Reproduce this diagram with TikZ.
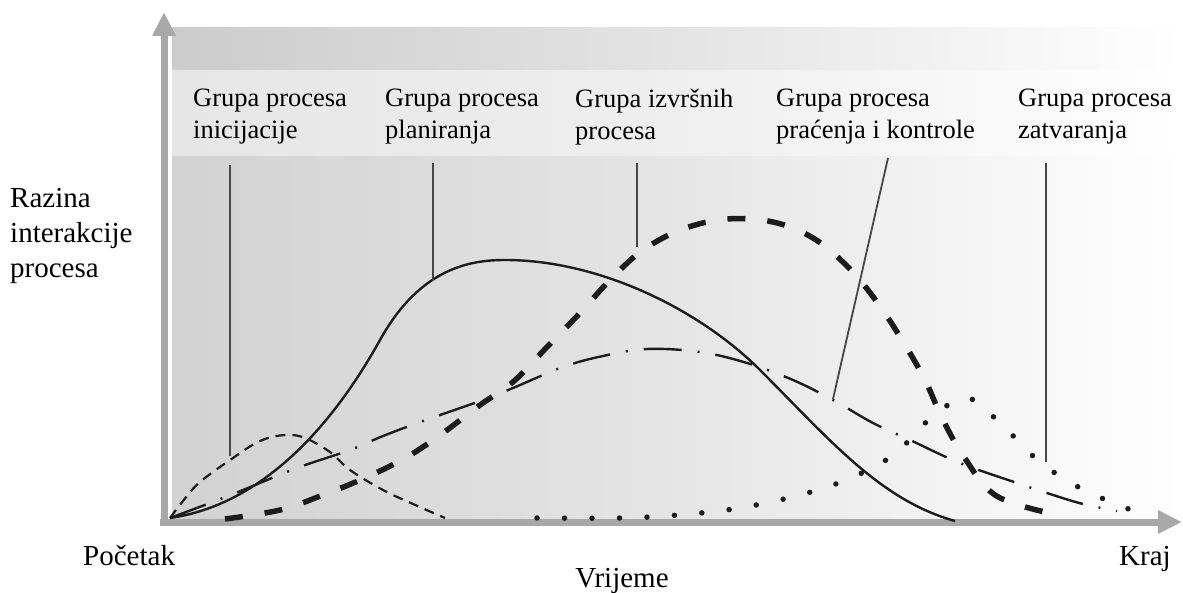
\documentclass[tikz,border=0pt]{standalone}
\usepackage{fontspec}
\setmainfont{Liberation Serif}
\usetikzlibrary{arrows.meta}
\definecolor{axisgray}{RGB}{168,168,168}
\definecolor{pointergray}{RGB}{70,70,70}
\definecolor{ink}{RGB}{28,28,28}
\definecolor{bandtop}{RGB}{204,204,204}
\definecolor{bandtopmid}{RGB}{226,226,226}
\definecolor{bandtext}{RGB}{230,230,230}
\definecolor{bandtextmid}{RGB}{238,238,238}
\definecolor{plotleft}{RGB}{210,210,210}
\definecolor{plotmid}{RGB}{228,228,228}
\begin{document}
\begin{tikzpicture}[x=1pt,y=-1pt,
  grouplabel/.style={anchor=north west, align=left, inner sep=0pt,
    font=\fontsize{26.5}{31.5}\selectfont},
  sidelabel/.style={anchor=north west, align=left, inner sep=0pt,
    font=\fontsize{29}{35}\selectfont},
  endlabel/.style={anchor=base west, inner sep=0pt,
    font=\fontsize{29}{33}\selectfont},
  axisline/.style={draw=axisgray, line width=7pt,
    -{Triangle[length=24pt,width=22pt]}},
  pointerline/.style={draw=pointergray, line width=1.8pt},
  initcurve/.style={draw=ink, line width=2.2pt, dash pattern=on 10pt off 7pt},
  plancurve/.style={draw=ink, line width=2.4pt},
  execcurve/.style={draw=ink, line width=5.5pt, dash pattern=on 18pt off 22pt},
  moncurve/.style={draw=ink, line width=2.4pt,
    dash pattern=on 38pt off 16pt on 2pt off 16pt},
  closecurve/.style={draw=ink, line width=5.5pt, line cap=round,
    dash pattern=on 0pt off 27.5pt},
]
\useasboundingbox (0,0) rectangle (1183,593);
\fill[white] (0,0) rectangle (1183,593);

% shaded backdrop: header strip, label strip, plot area
\shade[left color=bandtop, right color=bandtopmid] (172,28) rectangle (640,71);
\shade[left color=bandtopmid, right color=white] (640,28) rectangle (1183,71);
\shade[left color=bandtext, right color=bandtextmid] (172,71) rectangle (640,157);
\shade[left color=bandtextmid, right color=white] (640,71) rectangle (1183,157);
\shade[left color=plotleft, right color=plotmid] (172,157) rectangle (640,522);
\shade[left color=plotmid, right color=white] (640,157) rectangle (1183,522);

% axes
\coordinate (origin) at (164,525);
\coordinate (ytop) at (164,12);
\coordinate (xorigin) at (160,522);
\coordinate (xend) at (1182,522);
\draw[axisline] (origin) -- (ytop);
\draw[axisline] (xorigin) -- (xend);

% process group curves
\draw[initcurve] plot[smooth, tension=0.6] coordinates {
  (170,518) (183,501) (200,482) (233,458) (260,441) (285,435) (305,438)
  (330,452) (350,470) (383,490) (413,504) (445,518)};
\draw[plancurve] (170,518) .. controls (260,505) and (330,430) .. (380,340)
  .. controls (420,268) and (470,260) .. (505,260)
  .. controls (600,260) and (700,310) .. (760,370)
  .. controls (830,440) and (880,500) .. (955,521);
\draw[execcurve] plot[smooth, tension=0.6] coordinates {
  (225,519) (280,510) (323,495) (367,477) (407,457) (443,433) (480,405)
  (513,382) (547,347) (580,313) (610,280) (643,250) (683,229) (727,219)
  (773,222) (813,238) (848,267) (877,302) (902,340) (925,380) (942,418)
  (964,457) (995,495) (1045,512)};
\draw[moncurve] plot[smooth, tension=0.6] coordinates {
  (170,518) (210,503) (243,490) (297,468) (350,450) (383,436) (423,421)
  (483,400) (513,388) (563,367) (603,356) (647,349) (700,352) (747,363)
  (793,380) (833,400) (873,423) (910,440) (960,463) (1017,483) (1050,494)
  (1083,504) (1117,511)};
\draw[closecurve] plot[smooth, tension=0.6] coordinates {
  (537,518) (622,518) (678,515) (733,509) (788,498) (841,482) (892,456)
  (932,417) (967,398) (999,422) (1040,462) (1086,491) (1147,516)};

% group labels
\node[grouplabel] (lini) at (193,89) {Grupa procesa\\inicijacije};
\node[grouplabel] (lplan) at (385,89) {Grupa procesa\\planiranja};
\node[grouplabel] (lexec) at (575,89) {Grupa izvršnih\\procesa};
\node[grouplabel] (lmon) at (776,89) {Grupa procesa\\praćenja i kontrole};
\node[grouplabel] (lclose) at (1018,89) {Grupa procesa\\zatvaranja};

% pointers from labels to curves
\coordinate (pini) at (230,165);   \coordinate (cini) at (230,456);
\coordinate (pplan) at (433,163);  \coordinate (cplan) at (433,281);
\coordinate (pexec) at (637,163);  \coordinate (cexec) at (637,247);
\coordinate (pmon) at (888,158);   \coordinate (cmon) at (833,399);
\coordinate (pclose) at (1046,163);\coordinate (cclose) at (1046,462);
\draw[pointerline] (pini) -- (cini);
\draw[pointerline] (pplan) -- (cplan);
\draw[pointerline] (pexec) -- (cexec);
\draw[pointerline] (pmon) -- (cmon);
\draw[pointerline] (pclose) -- (cclose);

% axis labels
\node[sidelabel] (ylab) at (10,188) {Razina\\interakcije\\procesa};
\node[endlabel] (start) at (83,565) {Početak};
\node[endlabel] (finish) at (1119,565) {Kraj};
\node[endlabel, anchor=base] (xlab) at (622,587) {Vrijeme};
\end{tikzpicture}
\end{document}
